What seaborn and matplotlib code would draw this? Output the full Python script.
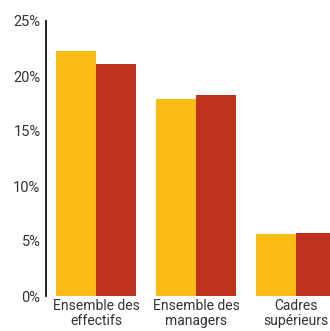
import pandas as pd
import matplotlib.pyplot as plt
import seaborn as sns

# Data
categories = ["Ensemble des\neffectifs", "Ensemble des\nmanagers", "Cadres\nsupérieurs"]
series_names = ["A", "B"]
values_a = [22.25, 17.9, 5.65]
values_b = [21.05, 18.25, 5.75]
yticks = [0, 5, 10, 15, 20, 25]

df = pd.DataFrame({
    "cat": categories * 2,
    "serie": [series_names[0]] * 3 + [series_names[1]] * 3,
    "val": values_a + values_b,
})

sns.set_style("white")
plt.rcParams['font.family'] = ['Roboto', 'DejaVu Sans']

fig = plt.figure(figsize=(3.3, 3.31), dpi=100)
ax = fig.add_axes([46 / 330, 1 - 296 / 331, 1 - 46 / 330, 275 / 331])

sns.barplot(data=df, x="cat", y="val", hue="serie", order=categories,
            palette=["#FBBB12", "#BE321D"], width=0.8, saturation=1,
            errorbar=None, legend=False, linewidth=0, ax=ax)

ax.set_xlim(-0.5, 2.34)
ax.set_ylim(0, 25)
ax.set_yticks(yticks)
ax.set_yticklabels([f"{t}%" for t in yticks], fontsize=10.5, color="#333333")
ax.tick_params(axis="x", labelsize=10, colors="#333333", length=0, pad=2)
ax.tick_params(axis="y", length=0, pad=4)
for lbl in ax.get_xticklabels():
    lbl.set_linespacing(1.1)
ax.set_xlabel("")
ax.set_ylabel("")
for s in ["top", "right", "bottom"]:
    ax.spines[s].set_visible(False)
ax.spines["left"].set_color("#111111")
ax.spines["left"].set_linewidth(1.3)

fig.savefig("out.png", dpi=100)
